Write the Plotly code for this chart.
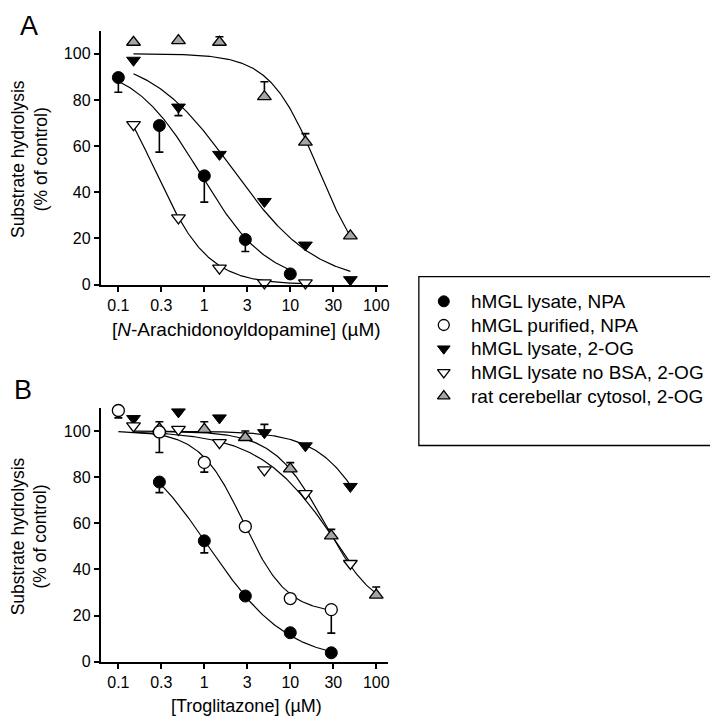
import numpy as np
import plotly.graph_objects as go

# ---------------- DATA ----------------
# Panel A: N-Arachidonoyldopamine (uM)
a_npa_lys_x = [0.1, 0.3, 1, 3, 10]
a_npa_lys_y = [89.7, 68.9, 47.1, 19.5, 4.6]
a_npa_lys_em = [6.4, 11.5, 11.4, 5.2, 0]

a_2og_lys_x = [0.15, 0.5, 1.5, 5, 15, 50]
a_2og_lys_y = [97.2, 76.9, 56.4, 36.0, 17.1, 2.1]
a_2og_lys_em = [0, 3.7, 0, 0, 0, 0]

a_nobsa_x = [0.15, 0.5, 1.5, 5, 15]
a_nobsa_y = [69.3, 28.9, 7.1, 0.7, 0.7]

a_rat_x = [0.15, 0.5, 1.5, 5, 15, 50]
a_rat_y = [105.0, 105.7, 105.0, 81.4, 61.7, 21.1]
a_rat_ep = [0, 0, 2.4, 6.5, 3.7, 0]

# Panel B: Troglitazone (uM)
b_npa_lys_x = [0.3, 1, 3, 10, 30]
b_npa_lys_y = [77.9, 52.4, 28.5, 12.6, 3.9]
b_npa_lys_em = [4.6, 5.2, 0, 0, 0]

b_npa_pur_x = [0.1, 0.3, 1, 3, 10, 30]
b_npa_pur_y = [108.9, 99.6, 86.4, 58.6, 27.4, 22.6]
b_npa_pur_em = [3.2, 8.9, 4.2, 0, 0, 10.2]

b_2og_lys_x = [0.15, 0.5, 1.5, 5, 15, 50]
b_2og_lys_y = [105.4, 108.3, 105.7, 99.3, 93.6, 76.0]
b_2og_lys_ep = [0, 0, 0, 3.6, 0, 0]

b_nobsa_x = [0.15, 0.5, 1.5, 5, 15, 50]
b_nobsa_y = [102.2, 100.7, 95.0, 83.2, 72.9, 42.6]

b_rat_x = [0.3, 1, 3, 10, 30, 100]
b_rat_y = [101.0, 100.7, 97.2, 83.6, 54.6, 28.9]
b_rat_ep = [3.0, 3.3, 2.8, 2.7, 2.8, 3.5]

# Fitted sigmoid parameters: top, bottom, IC50, Hill, x-start, x-end
a_npa_lys_fit = [96, 0, 0.9, 1.1, 0.1, 10]
a_2og_lys_fit = [100, 0, 2.13, 0.89, 0.15, 50]
a_nobsa_fit = [100, 0, 0.263, 1.39, 0.15, 15]
a_rat_fit = [100, 0, 21.2, 1.54, 0.15, 50]
b_npa_lys_fit = [100, 0, 1.12, 0.94, 0.3, 30]
b_npa_pur_fit = [100, 21, 2.85, 1.7, 0.1, 30]
b_2og_lys_fit = [100, 0, 124, 1.3, 0.15, 50]
b_nobsa_fit = [100, 0, 37, 0.95, 0.15, 50]
b_rat_fit = [100, 20, 25.2, 1.45, 0.3, 100]

tick_vals = [0.1, 10 ** -0.5, 1, 10 ** 0.5, 10, 10 ** 1.5, 100]
tick_text = ["0.1", "0.3", "1", "3", "10", "30", "100"]

names = ["hMGL lysate, NPA", "hMGL purified, NPA", "hMGL lysate, 2-OG",
         "hMGL lysate no BSA, 2-OG", "rat cerebellar cytosol, 2-OG"]
legend_styles = ["fc", "oc", "ft", "ot", "gt"]

# ---------------- FIGURE ----------------
W, H = 718, 725
FONT = "Liberation Sans, Arial, sans-serif"
fig = go.Figure()


def px(x):
    return x / W


def py(y):
    return 1 - y / H


STY = {
    "fc": dict(symbol="circle", size=12, color="black", lw=1),
    "oc": dict(symbol="circle", size=12, color="white", lw=1.3),
    "ft": dict(symbol="triangle-down", size=12, color="black", lw=1),
    "ot": dict(symbol="triangle-down", size=12, color="white", lw=1.3),
    "gt": dict(symbol="triangle-up", size=12, color="#a6a6a6", lw=1.3),
}


def mk(sty, size=None):
    s = STY[sty]
    return dict(symbol=s["symbol"], size=size or s["size"], color=s["color"],
                line=dict(color="black", width=s["lw"]))


def curve(fit, xa, ya):
    top, bot, ic50, h, x0, x1 = fit
    xs = np.logspace(np.log10(x0), np.log10(x1), 200)
    ys = bot + (top - bot) / (1 + (xs / ic50) ** h)
    fig.add_trace(go.Scatter(x=xs, y=ys, mode="lines", line=dict(color="black", width=1.2),
                             xaxis=xa, yaxis=ya, showlegend=False, hoverinfo="skip"))


def pts(x, y, sty, xa, ya, name=None, ep=None, em=None):
    err = None
    if ep is not None or em is not None:
        epv = ep if ep is not None else [0] * len(x)
        emv = em if em is not None else [0] * len(x)
        err = dict(type="data", symmetric=False, array=epv, arrayminus=emv,
                   color="black", thickness=1.6, width=4)
    fig.add_trace(go.Scatter(x=x, y=y, mode="markers", marker=mk(sty), error_y=err,
                             xaxis=xa, yaxis=ya, name=name, showlegend=False,
                             cliponaxis=False))


# Panel A curves + points
curve(a_npa_lys_fit, "x", "y")
curve(a_2og_lys_fit, "x", "y")
curve(a_nobsa_fit, "x", "y")
curve(a_rat_fit, "x", "y")
pts(a_rat_x, a_rat_y, "gt", "x", "y", name=names[4], ep=a_rat_ep)
pts(a_2og_lys_x, a_2og_lys_y, "ft", "x", "y", name=names[2], em=a_2og_lys_em)
pts(a_nobsa_x, a_nobsa_y, "ot", "x", "y", name=names[3])
pts(a_npa_lys_x, a_npa_lys_y, "fc", "x", "y", name=names[0], em=a_npa_lys_em)

# Panel B curves + points
curve(b_npa_lys_fit, "x2", "y2")
curve(b_npa_pur_fit, "x2", "y2")
curve(b_2og_lys_fit, "x2", "y2")
curve(b_nobsa_fit, "x2", "y2")
curve(b_rat_fit, "x2", "y2")
pts(b_rat_x, b_rat_y, "gt", "x2", "y2", name=names[4], ep=b_rat_ep)
pts(b_2og_lys_x, b_2og_lys_y, "ft", "x2", "y2", name=names[2], ep=b_2og_lys_ep)
pts(b_nobsa_x, b_nobsa_y, "ot", "x2", "y2", name=names[3])
pts(b_npa_lys_x, b_npa_lys_y, "fc", "x2", "y2", name=names[0], em=b_npa_lys_em)
pts(b_npa_pur_x, b_npa_pur_y, "oc", "x2", "y2", name=names[1], em=b_npa_pur_em)

# Legend drawn in its own box (overlay axes in pixel units)
LEG_L, LEG_R, LEG_T, LEG_B = 412, 712, 272, 443
row0, row_gap, sym_x, txt_x = 25, 24, 25, 50
leg_rows = [row0 + i * row_gap for i in range(len(names))]
fig.add_trace(go.Scatter(
    x=[sym_x] * len(names), y=leg_rows, mode="markers",
    marker=dict(symbol=[STY[s]["symbol"] for s in legend_styles], size=11,
                color=[STY[s]["color"] for s in legend_styles],
                line=dict(color="black", width=[STY[s]["lw"] for s in legend_styles])),
    xaxis="x3", yaxis="y3", showlegend=False, hoverinfo="skip", cliponaxis=False))
for nm, ry in zip(names, leg_rows):
    fig.add_annotation(xref="x3", yref="y3", x=txt_x, y=ry, text=nm, showarrow=False,
                       xanchor="left", yanchor="middle",
                       font=dict(family=FONT, size=19, color="black"))

xcommon = dict(type="log", range=[-1.205, 2.136], tickvals=tick_vals, ticktext=tick_text,
               showline=True, linecolor="black", linewidth=2, ticks="outside", ticklen=5,
               tickwidth=2, tickcolor="black", showgrid=False, zeroline=False,
               tickfont=dict(family=FONT, size=16, color="black"))
ycommon = dict(range=[0, 110], tickvals=[0, 20, 40, 60, 80, 100],
               showline=True, linecolor="black", linewidth=2, ticks="outside", ticklen=5,
               tickwidth=2, tickcolor="black", showgrid=False, zeroline=False,
               tickfont=dict(family=FONT, size=16, color="black"))

xd = [px(93), px(381)]
fig.update_layout(
    width=W, height=H, margin=dict(l=0, r=0, t=0, b=0),
    paper_bgcolor="white", plot_bgcolor="white",
    font=dict(family=FONT, color="black"),
    xaxis=dict(domain=xd, anchor="y", **xcommon),
    yaxis=dict(domain=[py(280), py(23)], anchor="x", **ycommon),
    xaxis2=dict(domain=xd, anchor="y2", **xcommon),
    yaxis2=dict(domain=[py(662), py(405)], anchor="x2", **ycommon),
    xaxis3=dict(domain=[px(LEG_L), px(LEG_R)], range=[0, LEG_R - LEG_L], anchor="y3",
                visible=False, fixedrange=True),
    yaxis3=dict(domain=[py(LEG_B), py(LEG_T)], range=[LEG_B - LEG_T, 0], anchor="x3",
                visible=False, fixedrange=True),
    showlegend=False,
)

fig.add_shape(type="rect", xref="paper", yref="paper",
              x0=px(LEG_L), x1=px(LEG_R), y0=py(LEG_B), y1=py(LEG_T),
              line=dict(color="black", width=1.3))

ann = [
    dict(text="A", x=px(21), y=py(1), size=27, ya="top"),
    dict(text="B", x=px(15), y=py(370), size=27, ya="top"),
    dict(text="Substrate hydrolysis<br>(% of control)", x=px(21), y=py(153), size=17.5, angle=-90),
    dict(text="Substrate hydrolysis<br>(% of control)", x=px(21), y=py(535), size=17.5, angle=-90),
    dict(text="[<i>N</i>-Arachidonoyldopamine] (µM)", x=px(239), y=py(326), size=19),
    dict(text="[Troglitazone] (µM)", x=px(239), y=py(707), size=18),
]
for a in ann:
    fig.add_annotation(xref="paper", yref="paper", showarrow=False, xanchor="center",
                       yanchor=a.get("ya", "middle"),
                       font=dict(family=FONT, color="black", size=a["size"]),
                       text=a["text"], x=a["x"], y=a["y"], textangle=a.get("angle", 0))

fig.write_html("out.html")
